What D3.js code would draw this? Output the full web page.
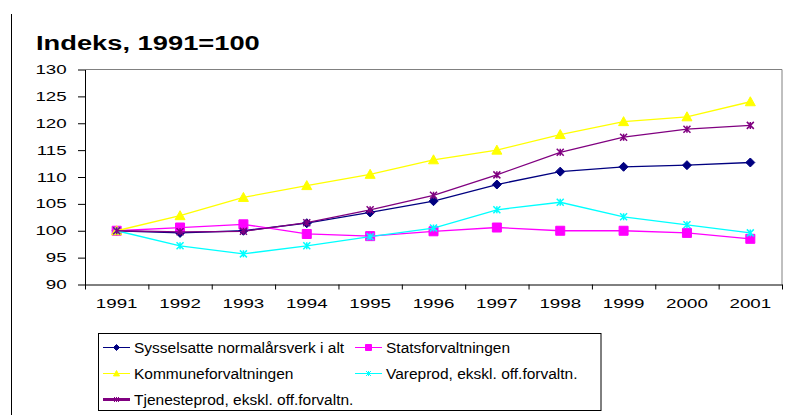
<!DOCTYPE html>
<html lang="no">
<head>
<meta charset="UTF-8">
<script src="https://d3js.org/d3.v7.min.js"></script>
<style>
body{
	margin: 0;
	background-color: white;
}
svg{
	display: block;
	font-family: "Liberation Sans", Arial, sans-serif;
}
</style>
</head>
<body>
<svg width="788" height="415"></svg>
<script>
// årstall og indekser (1991=100)
const years = ["1991","1992","1993","1994","1995","1996","1997","1998","1999","2000","2001"];
const sysselsatte = [100, 99.6, 100.0, 101.4, 103.4, 105.5, 108.6, 111.0, 111.9, 112.2, 112.7];
const statsforv = [100, 100.6, 101.2, 99.4, 99.0, 99.9, 100.6, 100.0, 100.0, 99.6, 98.5];
const kommuneforv = [100, 102.8, 106.2, 108.4, 110.5, 113.2, 115.0, 117.9, 120.3, 121.2, 124.0];
const vareprod = [100, 97.2, 95.7, 97.2, 98.9, 100.5, 103.9, 105.3, 102.6, 101.1, 99.6];
const tjenesteprod = [100, 99.8, 99.9, 101.5, 103.9, 106.6, 110.4, 114.6, 117.4, 118.9, 119.6];
const yTicks = [90, 95, 100, 105, 110, 115, 120, 125, 130];

const series = [
	{name: "Sysselsatte normalårsverk i alt", values: sysselsatte, color: "#000080", marker: "diamond", legendW: 1},
	{name: "Statsforvaltningen", values: statsforv, color: "#ff00ff", marker: "square", legendW: 1},
	{name: "Kommuneforvaltningen", values: kommuneforv, color: "#ffff00", marker: "triangle", legendW: 1},
	{name: "Vareprod, ekskl. off.forvaltn.", values: vareprod, color: "#00ffff", marker: "star", legendW: 1},
	{name: "Tjenesteprod, ekskl. off.forvaltn.", values: tjenesteprod, color: "#800080", marker: "star", legendW: 3}
];

const svg = d3.select("svg");
const plotL = 85, plotR = 782, plotT = 69.5, plotB = 284.5;

const x = d3.scaleBand().domain(years).range([plotL, plotR]).padding(0);
const y = d3.scaleLinear().domain([90, 130]).range([plotB, plotT]);
const cx = d => x(d) + x.bandwidth() / 2;

// ramme venstre
svg.append("line")
	.attr("x1", 11.5).attr("x2", 11.5).attr("y1", 14).attr("y2", 415)
	.attr("stroke", "black");

// tittel
svg.append("text")
	.attr("transform", "translate(36,50) scale(1.3,1)")
	.style("font-size", "21px").style("font-weight", "bold")
	.text("Indeks, 1991=100");

// plotramme topp/høyre
svg.append("path")
	.attr("d", `M${plotL},${plotT}H${plotR}V${plotB}`)
	.attr("fill", "none").attr("stroke", "#808080");

const tickScale = 1.5;

// y-akse
const yAxis = svg.append("g")
	.attr("transform", `translate(${plotL},0)`)
	.call(d3.axisLeft(y).tickValues(yTicks).tickSize(7).tickSizeOuter(0));
yAxis.select(".domain").attr("stroke", "black");
yAxis.selectAll("text")
	.attr("x", -18.3 / tickScale)
	.attr("transform", `scale(${tickScale},1)`)
	.style("font-size", "12.5px").style("font-family", "Liberation Sans, Arial, sans-serif")
	.attr("fill", "black");

// x-akse (merker mellom kategoriene)
const xAxis = svg.append("g")
	.attr("transform", `translate(0,${plotB})`)
	.call(d3.axisBottom(x).tickSize(0).tickSizeOuter(0));
xAxis.select(".domain").attr("stroke", "black");
xAxis.selectAll("text")
	.attr("y", 23.8).attr("dy", 0)
	.attr("transform", `scale(${tickScale},1)`)
	.style("font-size", "12.5px").style("font-family", "Liberation Sans, Arial, sans-serif")
	.attr("fill", "black");
xAxis.selectAll(".bound")
	.data(years.map(d => x(d)).concat([plotR]))
	.join("line")
	.attr("class", "bound")
	.attr("x1", d => d + 0.5).attr("x2", d => d + 0.5)
	.attr("y1", 0).attr("y2", 5)
	.attr("stroke", "black");

function markerPath(type, s) {
	const p = d3.path();
	if (type == "diamond") {
		p.moveTo(0, -s); p.lineTo(s, 0); p.lineTo(0, s); p.lineTo(-s, 0); p.closePath();
	} else if (type == "square") {
		p.rect(-s, -s, 2 * s, 2 * s);
	} else if (type == "triangle") {
		p.moveTo(0, -s); p.lineTo(s, s * 0.8); p.lineTo(-s, s * 0.8); p.closePath();
	} else {
		p.moveTo(-s, -s); p.lineTo(s, s);
		p.moveTo(-s, s); p.lineTo(s, -s);
		p.moveTo(0, -s); p.lineTo(0, s);
	}
	return p.toString();
}

const line = d3.line()
	.x((d, i) => cx(years[i]))
	.y(d => y(d));

series.forEach(function(s) {
	svg.append("path")
		.datum(s.values)
		.attr("d", line)
		.attr("fill", "none")
		.attr("stroke", s.color)
		.attr("stroke-width", 1.3);

	const size = s.marker == "star" ? 3.5 : (s.marker == "triangle" ? 5 : 4.5);
	svg.append("g").selectAll("path")
		.data(s.values)
		.join("path")
		.attr("transform", (d, i) => `translate(${cx(years[i])},${y(d)})`)
		.attr("d", markerPath(s.marker, size))
		.attr("fill", s.marker == "star" ? "none" : s.color)
		.attr("stroke", s.color)
		.attr("stroke-width", s.marker == "star" ? 1.5 : 1);
});

// forklaring
svg.append("rect")
	.attr("x", 98.5).attr("y", 333.5).attr("width", 502.5).attr("height", 77)
	.attr("fill", "white").attr("stroke", "black");

const legend = svg.append("g").selectAll("g")
	.data(series)
	.join("g")
	.attr("transform", (d, i) => `translate(${i % 2 == 0 ? 103 : 355},${347.5 + Math.floor(i / 2) * 26})`);

legend.append("line")
	.attr("x1", 0).attr("x2", 27)
	.attr("stroke", d => d.color)
	.attr("stroke-width", d => d.legendW);

legend.append("path")
	.attr("transform", "translate(13.5,0)")
	.attr("d", d => markerPath(d.marker, d.marker == "star" ? 2.5 : 3))
	.attr("fill", d => d.marker == "star" ? "none" : d.color)
	.attr("stroke", d => d.color);

legend.append("text")
	.attr("x", 31).attr("y", 5.5)
	.style("font-size", "15.5px")
	.text(d => d.name);
</script>
</body>
</html>
